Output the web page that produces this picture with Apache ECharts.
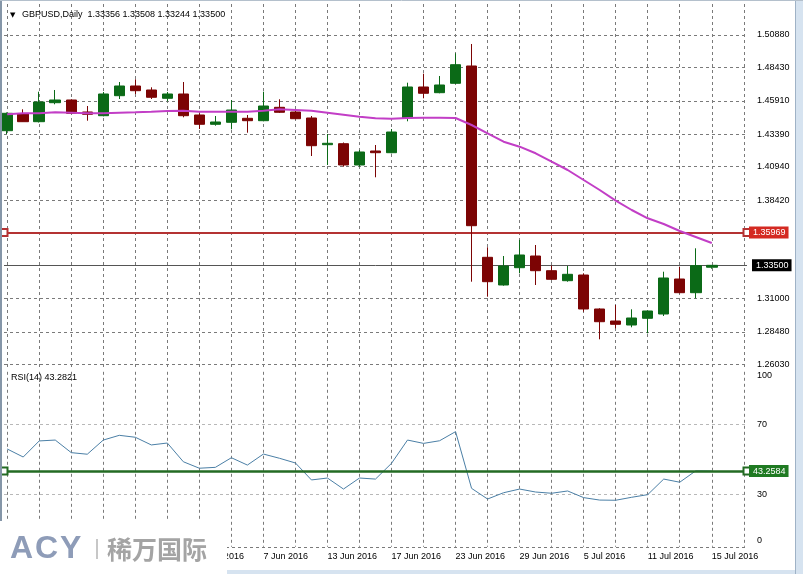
<!DOCTYPE html>
<html><head><meta charset="utf-8">
<script src="https://cdn.jsdelivr.net/npm/echarts@6/dist/echarts.min.js"></script>
<style>html,body{margin:0;padding:0;background:#fff}#c{width:803px;height:574px}</style>
</head><body><div id="c"></div>
<script>
const dates = ['16 May 2016','17 May 2016','18 May 2016','19 May 2016','20 May 2016','23 May 2016','24 May 2016','25 May 2016','26 May 2016','27 May 2016','30 May 2016','31 May 2016','1 Jun 2016','2 Jun 2016','3 Jun 2016','6 Jun 2016','7 Jun 2016','8 Jun 2016','9 Jun 2016','10 Jun 2016','13 Jun 2016','14 Jun 2016','15 Jun 2016','16 Jun 2016','17 Jun 2016','20 Jun 2016','21 Jun 2016','22 Jun 2016','23 Jun 2016','24 Jun 2016','27 Jun 2016','28 Jun 2016','29 Jun 2016','30 Jun 2016','1 Jul 2016','4 Jul 2016','5 Jul 2016','6 Jul 2016','7 Jul 2016','8 Jul 2016','11 Jul 2016','12 Jul 2016','13 Jul 2016','14 Jul 2016','15 Jul 2016'];
const opens  = [1.43658,1.44919,1.44338,1.45771,1.45975,1.45070,1.44790,1.46300,1.47032,1.46730,1.46103,1.46428,1.44843,1.44141,1.44292,1.44594,1.44413,1.45424,1.45070,1.44617,1.42602,1.42677,1.41070,1.42127,1.41998,1.44617,1.46956,1.46526,1.47235,1.48541,1.34105,1.32015,1.33320,1.34203,1.33094,1.32339,1.32769,1.30204,1.29298,1.28996,1.29502,1.29826,1.32467,1.31434,1.33356];
const closes = [1.44971,1.44338,1.45824,1.45975,1.44971,1.44896,1.46428,1.47032,1.46677,1.46179,1.46428,1.44790,1.44141,1.44315,1.45220,1.44413,1.45522,1.45047,1.44564,1.42527,1.42708,1.41070,1.42051,1.41998,1.43560,1.46956,1.46481,1.47107,1.48639,1.36490,1.32264,1.33449,1.34279,1.33094,1.32445,1.32822,1.30204,1.29245,1.29049,1.29525,1.30053,1.32543,1.31434,1.33471,1.33500];
const lows   = [1.43409,1.44315,1.44277,1.45651,1.44919,1.44413,1.44745,1.46051,1.46428,1.46051,1.45877,1.44670,1.43787,1.44036,1.43764,1.43508,1.44368,1.44994,1.44519,1.41749,1.41070,1.40942,1.40942,1.40142,1.41953,1.44368,1.46103,1.46481,1.47182,1.32264,1.31132,1.31962,1.32898,1.32015,1.32392,1.32264,1.30000,1.27917,1.28747,1.28823,1.28370,1.29675,1.31389,1.31011,1.33244];
const highs  = [1.45032,1.45273,1.46601,1.46730,1.46028,1.45522,1.46579,1.47333,1.47537,1.46933,1.46579,1.47333,1.44971,1.44768,1.45975,1.44843,1.46601,1.46028,1.45220,1.44768,1.43409,1.42768,1.42202,1.42579,1.43787,1.47281,1.47960,1.47786,1.49499,1.50201,1.34860,1.34203,1.35411,1.35033,1.33486,1.33449,1.32898,1.30256,1.30506,1.30181,1.30075,1.33018,1.33396,1.34784,1.33508];
const maValues = [1.44896,1.44971,1.44971,1.45047,1.45017,1.44971,1.44971,1.45017,1.45047,1.45092,1.45145,1.45168,1.45092,1.45092,1.45092,1.45092,1.45168,1.45273,1.45220,1.45168,1.45017,1.44866,1.44715,1.44594,1.44564,1.44617,1.44639,1.44639,1.44617,1.44089,1.43462,1.42828,1.42451,1.41953,1.41319,1.40693,1.39938,1.39184,1.38376,1.37674,1.37048,1.36618,1.36090,1.35637,1.35184];
const rsiValues = [55.9,51.3,60.5,61.0,53.8,52.9,61.0,63.7,62.6,58.2,59.3,48.6,44.9,45.4,50.9,46.7,53.0,50.6,47.9,38.2,39.3,33.0,39.3,38.7,47.7,61.0,59.1,60.6,65.8,33.4,27.3,30.9,33.0,31.3,30.6,31.9,28.1,26.7,26.6,28.3,29.8,38.7,36.9,43.4,43.28];
const priceGrid = [1.26030,1.28480,1.31000,1.33500,1.35960,1.38420,1.40940,1.43390,1.45910,1.48430,1.50880];
const priceLabels = [1.26030,1.28480,1.31000,1.38420,1.40940,1.43390,1.45910,1.48430,1.50880];
const rsiTicks = [0,30,70,100];
const xGrid = [0,2,4,6,8,10,12,14,16,18,20,22,24,26,28,30,32,34,36,38,40,42,44,46];
const xLabels = [0,4,8,12,16,20,24,28,32,36,40,44];
const levelRed = 1.35969;
const bidPrice = 1.33500;
const rsiLevel = 43.2584;
const headerText = 'GBPUSD,Daily  1.33356 1.33508 1.33244 1.33500';
const rsiTitle = 'RSI(14) 43.2821';

const FONT = '"Liberation Sans", Arial, sans-serif';
const FS = 9;
const DASH = [3,3];

const candleData = dates.map((d,i)=>[i, opens[i], closes[i], lows[i], highs[i]]);
const maData = maValues.map((v,i)=>[i,v]);
const rsiData = rsiValues.map((v,i)=>[i,v]);

const chart = echarts.init(document.getElementById('c'), null, {renderer:'canvas'});
const axisFont = {color:'#000', fontFamily:FONT, fontSize:FS};
const boxLabel = (txt, bg) => ({show:true, position:'end', distance:2, formatter:txt, backgroundColor:bg, color:'#fff',
  padding:[2,3,1,4], fontFamily:FONT, fontSize:FS});
const option = {
  animation:false,
  backgroundColor:'#ffffff',
  grid:[
    {left:4, top:4, width:743, height:365, containLabel:false, outerBoundsMode:'none'},
    {left:4, top:371.8, width:743, height:175, containLabel:false, outerBoundsMode:'none'}
  ],
  xAxis:[
    {type:'value', gridIndex:0, min:-0.2, max:46.2,
     axisLine:{show:false}, axisTick:{show:false, customValues:xGrid},
     axisLabel:{show:false},
     splitLine:{show:true, lineStyle:{color:'#7a7a7a', width:1, type:DASH}}},
    {type:'value', gridIndex:1, min:-0.2, max:46.2,
     axisLine:{show:false}, axisTick:{show:false, customValues:xGrid},
     axisLabel:Object.assign({show:true, customValues:xLabels, align:'left', margin:5,
       showMinLabel:true, showMaxLabel:true, hideOverlap:false,
       formatter:(v)=>dates[Math.round(v)]||''}, axisFont),
     splitLine:{show:true, lineStyle:{color:'#7a7a7a', width:1, type:DASH}}}
  ],
  yAxis:[
    {type:'value', gridIndex:0, position:'right', min:1.25676, max:1.53219,
     axisLine:{show:false}, axisTick:{show:false, customValues:priceGrid},
     axisLabel:Object.assign({customValues:priceLabels, margin:10, showMinLabel:true, showMaxLabel:true,
       formatter:(v)=>v.toFixed(5)}, axisFont),
     splitLine:{show:true, lineStyle:{color:'#7a7a7a', width:1, type:DASH}}},
    {type:'value', gridIndex:1, position:'right', min:0, max:100,
     axisLine:{show:false}, axisTick:{show:false, customValues:rsiTicks},
     axisLabel:Object.assign({customValues:rsiTicks, margin:10, showMinLabel:true, showMaxLabel:true,
       formatter:(v)=> v===100 ? '{a|100}' : (v===0 ? '{b|0}' : String(v)),
       rich:{a:{padding:[8,0,0,0], fontFamily:FONT, fontSize:FS, color:'#000'},
             b:{padding:[0,0,12,0], fontFamily:FONT, fontSize:FS, color:'#000'}}}, axisFont),
     splitLine:{show:true, lineStyle:{color:['#7a7a7a','#b8b8b8','#b8b8b8','rgba(0,0,0,0)'], width:1, type:DASH}}}
  ],
  series:[
    {type:'candlestick', xAxisIndex:0, yAxisIndex:0, barWidth:11, data:candleData, z:3, clip:true,
     itemStyle:{color:'#0b6a17', color0:'#7c0404', borderColor:'#0b6a17', borderColor0:'#7c0404', borderWidth:1},
     markLine:{silent:true, animation:false, precision:5, symbol:['emptyRect','emptyRect'], symbolSize:7, z:2,
       lineStyle:{color:'#b43232', width:2, type:'solid'},
       data:[{yAxis:levelRed, label:boxLabel(levelRed.toFixed(5), '#d42a22')}]}},
    {type:'line', xAxisIndex:0, yAxisIndex:0, data:maData, showSymbol:false, symbol:'none', z:4,
     lineStyle:{color:'#c23ec6', width:2},
     markLine:{silent:true, animation:false, precision:5, symbol:'none', z:2,
       lineStyle:{color:'#555555', width:1, type:'solid'},
       data:[{yAxis:bidPrice, label:Object.assign(boxLabel(bidPrice.toFixed(5), '#000'), {distance:5})}]}},
    {type:'line', xAxisIndex:1, yAxisIndex:1, data:rsiData, showSymbol:false, symbol:'none', z:3,
     lineStyle:{color:'#4b7fa6', width:1},
     markLine:{silent:true, animation:false, precision:4, symbol:['emptyRect','emptyRect'], symbolSize:7, z:4,
       lineStyle:{color:'#236b23', width:2.5, type:'solid'},
       data:[{yAxis:rsiLevel, label:boxLabel(String(rsiLevel), '#1f7a22')}]}}
  ],
  graphic:[
    {type:'text', x:10, y:15, z:50, style:{text:'▼', font:'7px "DejaVu Sans"', fill:'#000', verticalAlign:'middle'}},
    {type:'text', x:22, y:15, z:50, style:{text:headerText, font:FS+'px '+FONT, fill:'#000', verticalAlign:'middle'}},
    {type:'text', x:11, y:378, z:50, style:{text:rsiTitle, font:FS+'px '+FONT, fill:'#000', verticalAlign:'middle'}},
    {type:'rect', z:40, shape:{x:795, y:0, width:8, height:574}, style:{fill:'#d6e3f0'}},
    {type:'line', z:41, shape:{x1:795.5, y1:0, x2:795.5, y2:574}, style:{stroke:'#9fb2c6', lineWidth:1}},
    {type:'rect', z:40, shape:{x:0, y:570, width:803, height:4}, style:{fill:'#d6e3f0'}},
    {type:'line', z:41, shape:{x1:1, y1:0, x2:1, y2:574}, style:{stroke:'#8596a8', lineWidth:2}},
    {type:'line', z:41, shape:{x1:0, y1:0.5, x2:803, y2:0.5}, style:{stroke:'#b4c0cc', lineWidth:1}},
    {type:'rect', z:60, shape:{x:0, y:521, width:227, height:53}, style:{fill:'#ffffff'}},
    {type:'text', z:61, x:10, y:549, style:{text:'A', font:'bold 32px "Liberation Sans"', fill:'#8e9cb8', verticalAlign:'middle'}},
    {type:'text', z:61, x:35, y:549, style:{text:'C', font:'bold 32px "Liberation Sans"', fill:'#8e9cb8', verticalAlign:'middle'}},
    {type:'text', z:61, x:60, y:549, style:{text:'Y', font:'bold 32px "Liberation Sans"', fill:'#8e9cb8', verticalAlign:'middle'}},
    {type:'line', z:61, shape:{x1:97, y1:539, x2:97, y2:559}, style:{stroke:'#b5b5b5', lineWidth:1.5}},
    {type:'text', z:61, x:107, y:549, style:{text:'稀万国际', font:'bold 25px "Noto Sans CJK SC"', fill:'#a4a4a4', verticalAlign:'middle'}}
  ]
};
chart.setOption(option);
</script></body></html>
